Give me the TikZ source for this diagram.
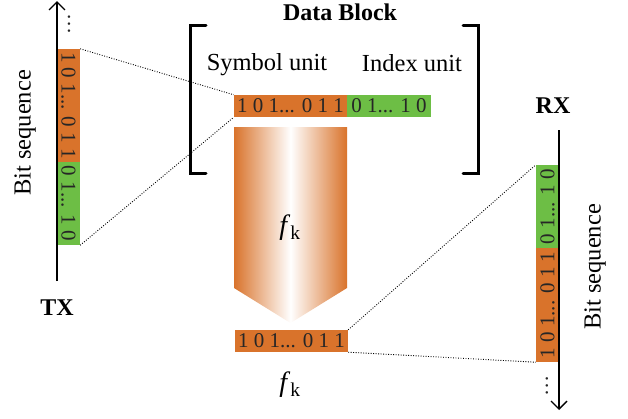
\documentclass[tikz,border=0pt]{standalone}
\usepackage{fontspec}
\setmainfont{Liberation Serif}
\usetikzlibrary{arrows.meta}
\definecolor{borange}{RGB}{217,115,43}
\definecolor{bgreen}{RGB}{109,190,69}
\newcommand{\vdotsrow}{.\kern1.6pt.\kern1.6pt.}
\begin{document}
\begin{tikzpicture}[x=1pt,y=-1pt,
  lbl/.style={font=\fontsize{24.5}{27}\selectfont, inner sep=0},
  lblb/.style={font=\fontsize{24}{27}\selectfont\bfseries, inner sep=0},
  fk/.style={font=\fontsize{28}{30}\selectfont, inner sep=0},
  bits/.style={font=\fontsize{21}{24}\selectfont, inner sep=0, text=black!85},
  obar/.style={fill=borange, draw=none, inner sep=0},
  gbar/.style={fill=bgreen, draw=none, inner sep=0},
  axis/.style={line width=1.4pt},
  tip/.style={-{Straight Barb[length=8pt,width=16pt,line width=1.4pt]}},
  conn/.style={line width=0.9pt, dash pattern=on 0.9pt off 1.6pt},
  brk/.style={line width=3pt, line cap=round, line join=miter}
]
\useasboundingbox (0,0) rectangle (628,418);

% left (TX) bit sequence
\node[obar,bits,minimum width=23pt,minimum height=113pt] (lo) at (68.5,105.5) {\rotatebox{-90}{1 0 1... 0 1 1}};
\node[gbar,bits,minimum width=23pt,minimum height=83pt] (lg) at (68.5,203.5) {\rotatebox{-90}{0 1... 1 0}};
\coordinate (txb) at (57,281);
\coordinate (txt) at (57,1);
\draw[axis,tip] (txb) -- (txt);
\node[bits] (tdots) at (69,24) {\rotatebox{-90}{\vdotsrow}};
\node[lbl,rotate=90] (bsl) at (25,133) {Bit sequence};
\node[lblb] (tx) at (57,308) {TX};

% data block
\node[lblb] (db) at (340,12) {Data Block};
\draw[brk] (206,25) -- (190,25) -- (190,173) -- (206,173);
\draw[brk] (463,25) -- (478,25) -- (478,173) -- (463,173);
\node[lbl] (su) at (267,65) {Symbol unit};
\node[lbl] (iu) at (412,63) {Index unit};
\node[obar,bits,minimum width=113pt,minimum height=22pt] (to) at (290.5,106) {1 0 1... 0 1 1};
\node[gbar,bits,minimum width=84pt,minimum height=22pt] (tg) at (389,106) {0 1... 1 0};

% shaded arrow
\shade[left color=borange, right color=borange, middle color=white]
  (234,127) -- (347,127) -- (347,288) -- (290.5,323) -- (234,288) -- cycle;
\node[fk] (fk1) at (290,228) {\textit{f}\textsubscript{k}};

% bottom bar
\node[obar,bits,minimum width=113pt,minimum height=22pt] (bo) at (291.5,341) {1 0 1... 0 1 1};
\node[fk] (fk2) at (290,385) {\textit{f}\textsubscript{k}};

% right (RX) bit sequence
\node[gbar,bits,minimum width=23pt,minimum height=83pt] (rg) at (547.5,206.5) {\rotatebox{90}{0 1... 1 0}};
\node[obar,bits,minimum width=23pt,minimum height=114pt] (ro) at (547.5,305) {\rotatebox{90}{1 0 1... 0 1 1}};
\coordinate (rxt) at (559,130);
\coordinate (rxb) at (559,410);
\draw[axis,tip] (rxt) -- (rxb);
\node[bits] (rdots) at (547,386) {\rotatebox{90}{\vdotsrow}};
\node[lbl,rotate=90] (bsr) at (595,267) {Bit sequence};
\node[lblb] (rx) at (553,106) {RX};

% connectors
\draw[conn] (lo.north east) -- (to.north west);
\draw[conn] (lg.south east) -- (to.south west);
\draw[conn] (bo.north east) -- (rg.north west);
\draw[conn] (bo.south east) -- (ro.south west);
\end{tikzpicture}
\end{document}
